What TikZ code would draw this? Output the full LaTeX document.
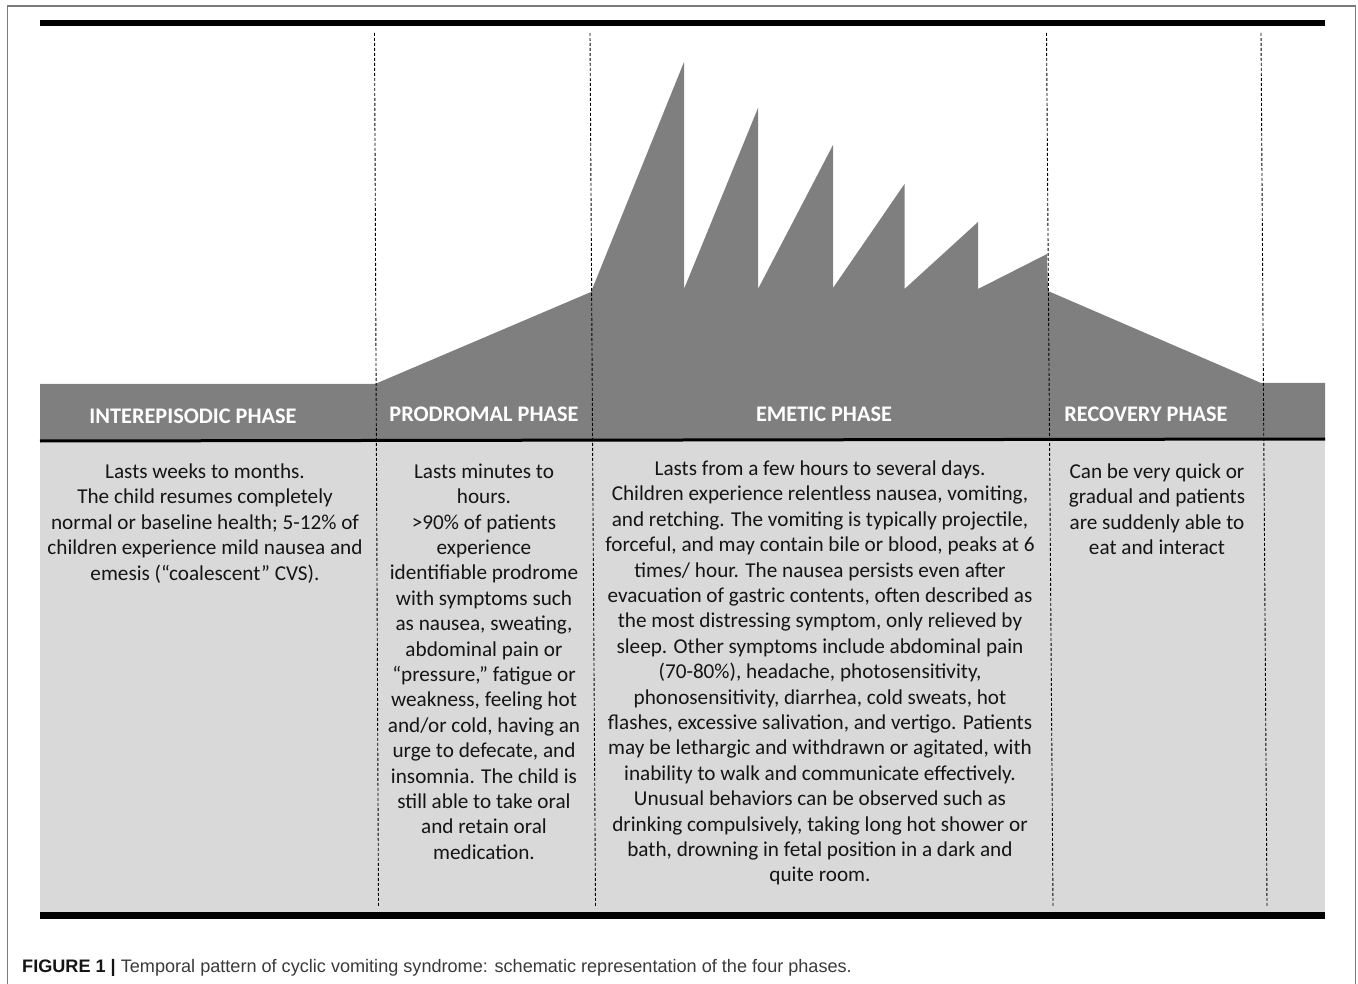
\documentclass[tikz,border=0pt]{standalone}
\usepackage{fontspec}
\setmainfont{Carlito}
\newfontfamily\capfont{Liberation Sans}
\definecolor{shapegray}{HTML}{7F7F7F}
\definecolor{bodygray}{HTML}{D9D9D9}
\definecolor{txt}{HTML}{151515}
\definecolor{framec}{HTML}{7A7A7A}
\definecolor{capc}{HTML}{3A3A3A}
\begin{document}
\begin{tikzpicture}[x=1pt,y=-1pt,
  dline/.style={dash pattern=on 3pt off 2pt, line width=0.9pt, black},
  bodytxt/.style={font=\fontsize{21.2}{25.4}\selectfont, text=txt, align=center, inner sep=0pt, anchor=north},
  headtxt/.style={font=\bfseries\fontsize{22.3}{26}\selectfont, text=white, inner sep=0pt},
  rule/.style={line width=#1, black}
]
\useasboundingbox (0,0) rectangle (1358,984);
% outer frame
\draw[framec, line width=1.5pt] (7.5,984) -- (7.5,6) -- (1355.5,6) -- (1355.5,984);
% top rule
\draw[rule=6pt] (40,23) -- (1325,23);
% body panel
\fill[bodygray] (40,441) rectangle (1325,912);
% grey profile
\fill[shapegray] (40,440) -- (40,384) -- (375,384) -- (591,292) -- (684,62) -- (684,289)
  -- (758,108) -- (758,289) -- (833,145) -- (833,288) -- (904.5,184) -- (904.5,289)
  -- (978,222) -- (978,289) -- (1047,254) -- (1048,291) -- (1261,383) -- (1325,383)
  -- (1325,440) -- cycle;
% rule under the band
\draw[rule=3pt] (40,441) -- (1325,439);
% bottom rule
\draw[rule=7pt] (40,915.5) -- (1325,915.5);
% dashed phase boundaries
\coordinate (d1t) at (374.5,33); \coordinate (d1b) at (378.5,906);
\coordinate (d2t) at (590,33);   \coordinate (d2b) at (595.5,906);
\coordinate (d3t) at (1046.5,33); \coordinate (d3b) at (1053,906);
\coordinate (d4t) at (1261,33);  \coordinate (d4b) at (1267,906);
\draw[dline] (d1t) -- (d1b);
\draw[dline] (d2t) -- (d2b);
\draw[dline] (d3t) -- (d3b);
\draw[dline] (d4t) -- (d4b);
% headers
\node[headtxt] (h1) at (193,416) {INTEREPISODIC PHASE};
\node[headtxt] (h2) at (484,414) {PRODROMAL PHASE};
\node[headtxt] (h3) at (824,414) {EMETIC PHASE};
\node[headtxt] (h4) at (1146,414) {RECOVERY PHASE};
% body texts
\node[bodytxt] (t1) at (205,463.5) {Lasts weeks to months.\\The child resumes completely\\normal or baseline health; 5-12\% of\\children experience mild nausea and\\emesis (“coalescent” CVS).};
\node[bodytxt] (t2) at (484,463.5) {Lasts minutes to\\hours.\\>90\% of patients\\experience\\identifiable prodrome\\with symptoms such\\as nausea, sweating,\\abdominal pain or\\“pressure,” fatigue or\\weakness, feeling hot\\and/or cold, having an\\urge to defecate, and\\insomnia. The child is\\still able to take oral\\and retain oral\\medication.};
\node[bodytxt] (t3) at (820,460.5) {Lasts from a few hours to several days.\\Children experience relentless nausea, vomiting,\\and retching. The vomiting is typically projectile,\\forceful, and may contain bile or blood, peaks at 6\\times/ hour. The nausea persists even after\\evacuation of gastric contents, often described as\\the most distressing symptom, only relieved by\\sleep. Other symptoms include abdominal pain\\(70-80\%), headache, photosensitivity,\\phonosensitivity, diarrhea, cold sweats, hot\\flashes, excessive salivation, and vertigo. Patients\\may be lethargic and withdrawn or agitated, with\\inability to walk and communicate effectively.\\Unusual behaviors can be observed such as\\drinking compulsively, taking long hot shower or\\bath, drowning in fetal position in a dark and\\quite room.};
\node[bodytxt] (t4) at (1157,463.5) {Can be very quick or\\gradual and patients\\are suddenly able to\\eat and interact};
% caption
\node[anchor=base west, inner sep=0pt, font=\capfont\fontsize{18.1}{21}\selectfont, text=capc] (cap) at (22,972) {{\bfseries\color{txt}FIGURE 1 |} Temporal pattern of cyclic vomiting syndrome: schematic representation of the four phases.};
\end{tikzpicture}
\end{document}
